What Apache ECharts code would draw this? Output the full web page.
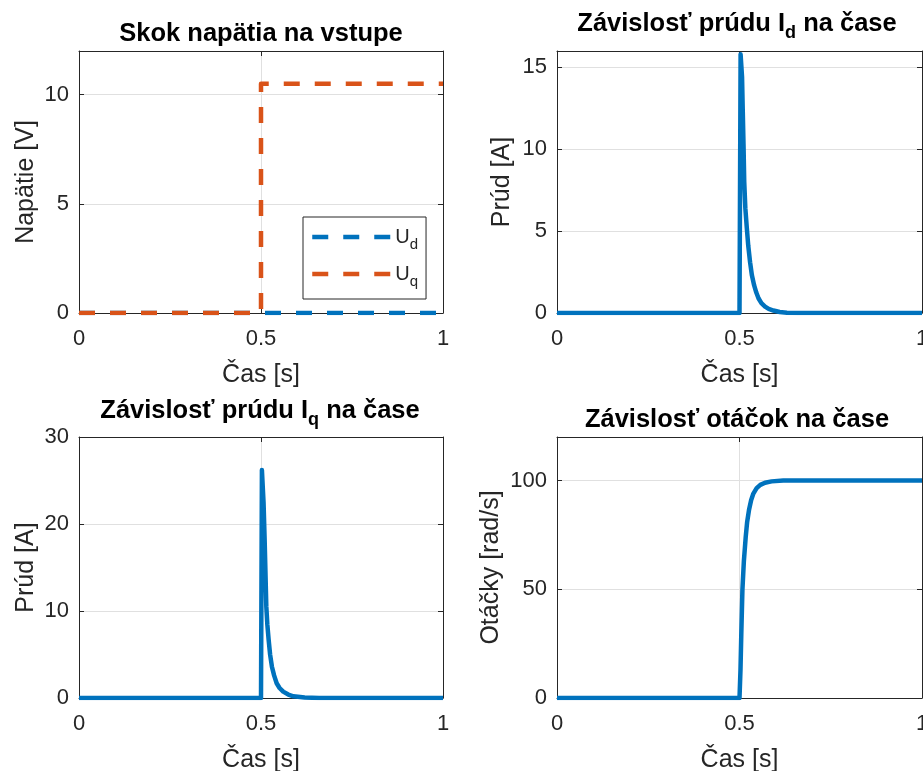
<!DOCTYPE html>
<html>
<head>
<meta charset="utf-8">
<script src="https://cdn.jsdelivr.net/npm/echarts@6/dist/echarts.min.js"></script>
<style>
  html, body { margin: 0; padding: 0; background: #fff; }
  #main { width: 923px; height: 771px; }
</style>
</head>
<body>
<div id="main"></div>
<script>
var FONT = '"Liberation Sans", Arial, Helvetica, sans-serif';
var BLUE = '#0072bd';
var ORANGE = '#d95319';
var AXIS_COLOR = '#262626';

// napatie na vstupe
var udTime = [0, 1];
var udValues = [0, 0];
var uqTime = [0, 0.5, 0.5, 1];
var uqValues = [0, 0, 10.5, 10.5];

// prud Id
var idTime = [0, 0.5, 0.503, 0.505, 0.507, 0.509, 0.511, 0.513, 0.516, 0.52, 0.524, 0.529, 0.534, 0.54, 0.546, 0.552, 0.56, 0.57, 0.58, 0.593, 0.61, 0.63, 0.66, 1];
var idValues = [0, 0, 15.8, 15.7, 14.4, 12.3, 10.3, 8.0, 6.4, 5.2, 4.1, 3.1, 2.3, 1.7, 1.25, 0.9, 0.6, 0.39, 0.25, 0.15, 0.06, 0.02, 0, 0];

// prud Iq
var iqTime = [0, 0.5, 0.5025, 0.5045, 0.507, 0.51, 0.5146, 0.5175, 0.521, 0.525, 0.53, 0.536, 0.543, 0.551, 0.561, 0.575, 0.589, 0.62, 0.66, 1];
var iqValues = [0, 0, 26.2, 26.0, 22.5, 18.2, 10.5, 8.4, 6.7, 5.0, 3.6, 2.6, 1.7, 1.15, 0.73, 0.4, 0.2, 0.05, 0, 0];

// otacky
var speedTime = [0, 0.5, 0.5027, 0.505, 0.508, 0.512, 0.517, 0.521, 0.526, 0.532, 0.538, 0.547, 0.557, 0.57, 0.588, 0.62, 1];
var speedValues = [0, 0, 12.9, 30, 49.7, 63, 74, 81, 86.4, 91, 94, 96.5, 98, 99, 99.6, 100, 100];

var timeTicks = { min: 0, max: 1, interval: 0.5 };

function pairs(t, v) {
  return t.map(function (x, i) { return [x, v[i]]; });
}

var grids = [
  { left: 79, top: 51, width: 364, height: 262, outerBoundsMode: 'none' },
  { left: 557, top: 51, width: 365, height: 262, outerBoundsMode: 'none' },
  { left: 79, top: 437, width: 364, height: 261, outerBoundsMode: 'none' },
  { left: 557, top: 437, width: 365, height: 261, outerBoundsMode: 'none' }
];

var yConf = [
  { name: 'Napätie [V]', min: 0, max: 12, interval: 5, nameGap: 40, showMax: false },
  { name: 'Prúd [A]', min: 0, max: 16, interval: 5, nameGap: 42, showMax: false },
  { name: 'Prúd [A]', min: 0, max: 30, interval: 10, nameGap: 40, showMax: true },
  { name: 'Otáčky [rad/s]', min: 0, max: 120, interval: 50, nameGap: 53, showMax: false }
];

function xAxis(g, top) {
  return {
    type: 'value', gridIndex: g, position: top ? 'top' : 'bottom',
    min: timeTicks.min, max: timeTicks.max, interval: timeTicks.interval,
    name: top ? '' : 'Čas [s]', nameLocation: 'middle', nameGap: 50,
    nameTextStyle: { fontSize: 25, color: AXIS_COLOR, fontFamily: FONT },
    axisLine: { show: true, onZero: false, lineStyle: { color: AXIS_COLOR, width: 1 } },
    axisTick: { show: true, inside: true, length: 5, lineStyle: { color: AXIS_COLOR } },
    axisLabel: { show: !top, fontSize: 22, color: AXIS_COLOR, margin: 15, fontFamily: FONT },
    splitLine: { show: !top, lineStyle: { color: '#e0e0e0', width: 1 } }
  };
}

function yAxis(g, right) {
  var c = yConf[g];
  return {
    type: 'value', gridIndex: g, position: right ? 'right' : 'left',
    min: c.min, max: c.max, interval: c.interval,
    name: right ? '' : c.name, nameLocation: 'middle', nameGap: c.nameGap,
    nameTextStyle: { fontSize: 25, color: AXIS_COLOR, fontFamily: FONT },
    axisLine: { show: true, onZero: false, lineStyle: { color: AXIS_COLOR, width: 1 } },
    axisTick: { show: true, inside: true, length: 5, lineStyle: { color: AXIS_COLOR } },
    axisLabel: { show: !right, fontSize: 22, color: AXIS_COLOR, margin: 10, fontFamily: FONT, showMaxLabel: c.showMax },
    splitLine: { show: !right, lineStyle: { color: '#e0e0e0', width: 1 } }
  };
}

var xAxes = [], yAxes = [];
[0, 1, 2, 3].forEach(function (g) { xAxes.push(xAxis(g, false)); yAxes.push(yAxis(g, false)); });
[0, 1, 2, 3].forEach(function (g) { xAxes.push(xAxis(g, true)); yAxes.push(yAxis(g, true)); });

function lineSeries(name, g, t, v, color, dashed) {
  return {
    type: 'line', name: name, xAxisIndex: g, yAxisIndex: g,
    data: pairs(t, v), symbol: 'none', animation: false,
    itemStyle: { color: color },
    lineStyle: { color: color, width: 4.5, type: dashed ? [16, 15] : 'solid', cap: 'butt', join: 'round' }
  };
}

var titleMain = { fontSize: 25.5, fontWeight: 'bold', color: '#000', fontFamily: FONT };
var titleSub = { fontSize: 18, fontWeight: 'bold', color: '#000', fontFamily: FONT, padding: [19, 0, 0, 0] };

var chart = echarts.init(document.getElementById('main'));
chart.setOption({
  backgroundColor: '#fff',
  animation: false,
  title: [
    { text: 'Skok napätia na vstupe', left: 256, top: 16, textAlign: 'center', textStyle: titleMain },
    { text: '{m|Závislosť prúdu I}{s|d}{m| na čase}', left: 732, top: 0, textAlign: 'center',
      textStyle: { rich: { m: titleMain, s: titleSub } } },
    { text: '{m|Závislosť prúdu I}{s|q}{m| na čase}', left: 255, top: 387, textAlign: 'center',
      textStyle: { rich: { m: titleMain, s: titleSub } } },
    { text: 'Závislosť otáčok na čase', left: 732, top: 402, textAlign: 'center', textStyle: titleMain }
  ],
  legend: {
    data: ['Ud', 'Uq'], orient: 'vertical', left: 303, top: 217,
    padding: [10, 8, 10, 7], itemGap: 12, itemWidth: 78, itemHeight: 14,
    borderColor: AXIS_COLOR, borderWidth: 1, backgroundColor: '#fff', selectedMode: false,
    itemStyle: { opacity: 0, borderWidth: 0 },
    lineStyle: { width: 4.5, type: [16, 15], cap: 'butt' },
    formatter: function (n) { return '{m|U}{s|' + n.slice(1) + '}'; },
    textStyle: {
      rich: {
        m: { fontSize: 20, color: AXIS_COLOR, fontFamily: FONT },
        s: { fontSize: 15, color: AXIS_COLOR, fontFamily: FONT, padding: [15, 0, 0, 0] }
      }
    }
  },
  grid: grids,
  xAxis: xAxes,
  yAxis: yAxes,
  series: [
    lineSeries('Ud', 0, udTime, udValues, BLUE, true),
    lineSeries('Uq', 0, uqTime, uqValues, ORANGE, true),
    lineSeries('Id', 1, idTime, idValues, BLUE, false),
    lineSeries('Iq', 2, iqTime, iqValues, BLUE, false),
    lineSeries('omega', 3, speedTime, speedValues, BLUE, false)
  ]
});
</script>
</body>
</html>
